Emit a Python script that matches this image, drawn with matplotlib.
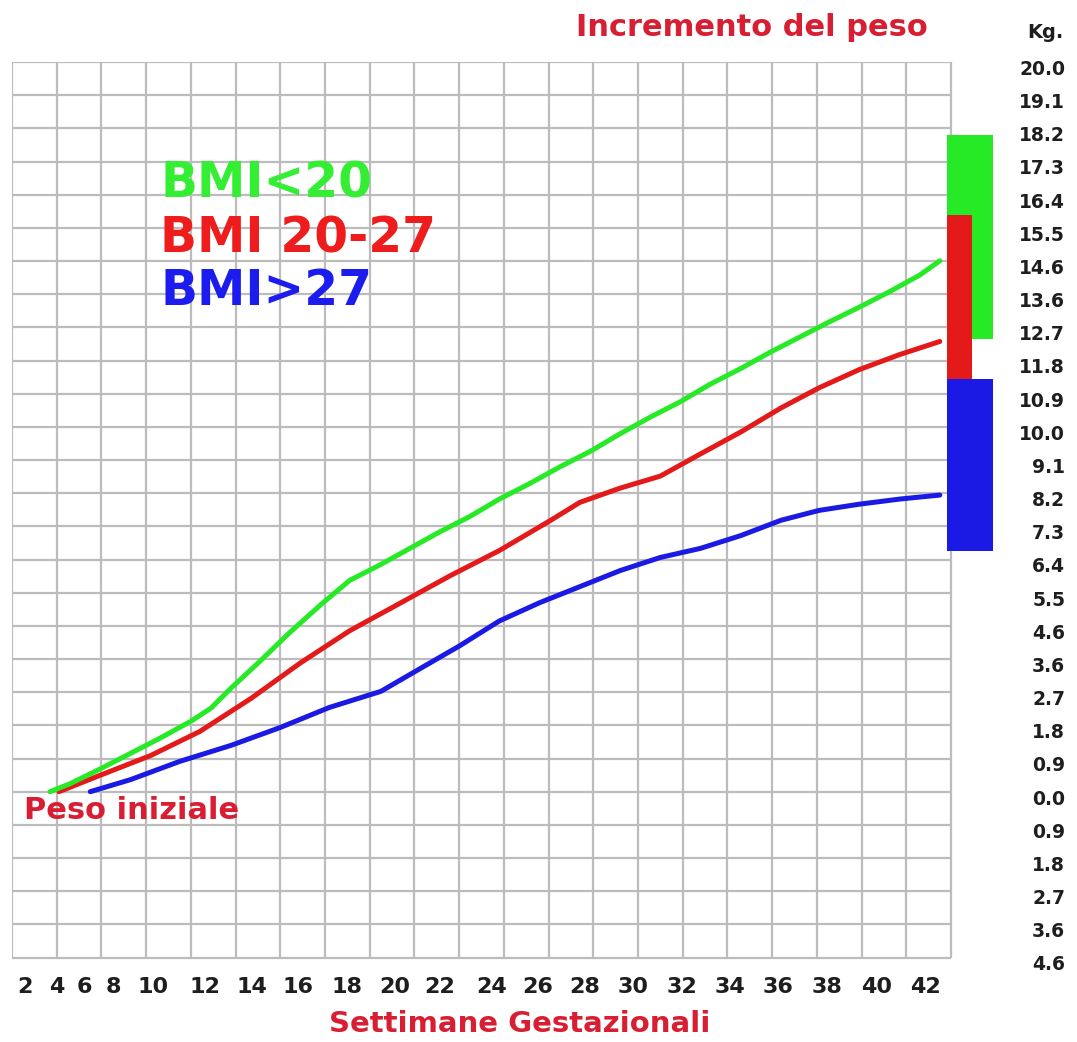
import matplotlib
matplotlib.use("Agg")
import matplotlib.pyplot as plt
import numpy as np

# ---------------- data ----------------
weeks_low = [1.7, 2.6, 3.9, 5.3, 6.6, 8.0, 8.9, 9.8, 11.1, 12.4, 13.8, 15.1, 16.5,
             17.8, 19.1, 20.5, 21.8, 23.2, 24.5, 25.9, 27.2, 28.5, 29.9, 31.2,
             32.6, 33.9, 35.2, 36.6, 37.9, 39.3, 40.6, 41.5]
kg_low = [0.0, 0.22, 0.61, 1.05, 1.46, 1.93, 2.29, 2.84, 3.58, 4.35, 5.12, 5.79,
          6.23, 6.67, 7.11, 7.55, 8.02, 8.46, 8.90, 9.34, 9.81, 10.25, 10.69,
          11.16, 11.60, 12.04, 12.45, 12.89, 13.28, 13.72, 14.16, 14.55]

weeks_mid = [2.1, 3.9, 6.2, 8.4, 10.7, 12.9, 15.1, 17.4, 19.6, 21.8, 24.1, 25.4,
             27.2, 29.0, 30.8, 32.6, 34.4, 36.1, 37.9, 39.7, 41.5]
kg_mid = [0.0, 0.44, 0.99, 1.65, 2.56, 3.53, 4.41, 5.18, 5.92, 6.61, 7.44, 7.93,
          8.32, 8.65, 9.26, 9.86, 10.52, 11.07, 11.57, 11.98, 12.34]

weeks_high = [3.5, 5.3, 7.5, 9.8, 12.0, 14.2, 16.5, 18.3, 20.0, 21.8, 23.6, 25.4,
              27.2, 29.0, 30.8, 32.6, 34.4, 36.1, 37.9, 39.7, 41.5]
kg_high = [0.0, 0.33, 0.83, 1.27, 1.76, 2.31, 2.75, 3.39, 3.99, 4.68, 5.18, 5.62,
           6.06, 6.42, 6.67, 7.02, 7.44, 7.71, 7.88, 8.02, 8.13]

# recommended ranges (kg) drawn as bars at the end of pregnancy
range_names = ["BMI<20", "BMI 20-27", "BMI>27"]
range_low = [12.4, 11.3, 6.6]
range_high = [18.0, 15.8, 11.3]

x_tick_labels = ["2", "4", "6", "8", "10", "12", "14", "16", "18", "20", "22",
                 "24", "26", "28", "30", "32", "34", "36", "38", "40", "42"]
y_tick_labels = ["20.0", "19.1", "18.2", "17.3", "16.4", "15.5", "14.6", "13.6",
                 "12.7", "11.8", "10.9", "10.0", "9.1", "8.2", "7.3", "6.4", "5.5",
                 "4.6", "3.6", "2.7", "1.8", "0.9", "0.0", "0.9", "1.8", "2.7",
                 "3.6", "4.6"]

# ---------------- style / layout ----------------
GREEN = "#26ea26"
RED = "#e41a1a"
BLUE = "#1a1ae4"
TXT_RED = "#d81e32"
GRID = "#bcbcbc"
FONT = "DejaVu Sans"

W, H = 1077, 1042
fig = plt.figure(figsize=(W / 100, H / 100), dpi=100)
fig.patch.set_facecolor("white")

step = 20 / 22                      # kg per horizontal grid row
y_min, y_max = -5 * step, 20.0
x_max = 44
px_per_week = 22.357
ax = fig.add_axes([12 / W, (H - 963) / H, x_max * px_per_week / W, (963 - 62) / H])
ax.set_xlim(0, x_max)
ax.set_ylim(y_min, y_max)
for s in ax.spines.values():
    s.set_visible(False)

# grid
grid_x = np.arange(0, 43, 2)
grid_y = np.arange(-5, 23) * step
ax.vlines(grid_x, y_min, y_max, color=GRID, lw=1.6, zorder=1)
ax.hlines(grid_y, 0, 42, color=GRID, lw=1.6, zorder=1)

# curves
ax.plot(weeks_high, kg_high, color=BLUE, lw=3.6, zorder=3, solid_capstyle="round")
ax.plot(weeks_mid, kg_mid, color=RED, lw=3.6, zorder=4, solid_capstyle="round")
ax.plot(weeks_low, kg_low, color=GREEN, lw=3.6, zorder=5, solid_capstyle="round")

# range bars
bar_left = 41.82
bar_widths = [2.06, 1.12, 2.06]
bar_colors = [GREEN, RED, BLUE]
for lo, hi, w, c, z in zip(range_low, range_high, bar_widths, bar_colors, [6, 7, 8]):
    ax.bar(bar_left, hi - lo, bottom=lo, width=w, align="edge", color=c,
           edgecolor="none", zorder=z, clip_on=False)

# ticks
label_pos = [0.58, 2.01, 3.22, 4.52, 6.31, 8.63, 10.73, 12.79, 14.98, 17.13,
             19.14, 21.47, 23.53, 25.63, 27.78, 29.97, 32.12, 34.26, 36.45,
             38.69, 40.84]
ax.set_xticks(label_pos)
ax.set_xticklabels(x_tick_labels, fontsize=16, fontweight="bold", family=FONT,
                   color="#1e1e1e")
ax.tick_params(axis="x", length=0, pad=10)

ax.yaxis.tick_right()
ax.set_yticks(grid_y[::-1] - 0.15)
ax.set_yticklabels(y_tick_labels, fontsize=13.5, fontweight="bold", family=FONT,
                   color="#1e1e1e", ha="right")
ax.tick_params(axis="y", length=0, pad=50)

# texts
legend_y = [16.67, 15.15, 13.72]
legend_colors = ["#33ee33", "#ee1c1c", "#1c1cee"]
for name, yy, c in zip(range_names, legend_y, legend_colors):
    ax.text(6.62, yy, name, color=c, fontsize=35, fontweight="bold", family=FONT,
            va="center", ha="left", zorder=9)

ax.text(0.55, -0.52, "Peso iniziale", color=TXT_RED, fontsize=22,
        fontweight="bold", family=FONT, va="center", ha="left", zorder=9)

fig.text(752 / W, 1 - 27 / H, "Incremento del peso", color=TXT_RED, fontsize=22,
         fontweight="bold", family=FONT, va="center", ha="center")
fig.text(1045 / W, 1 - 33 / H, "Kg.", color="#1e1e1e", fontsize=14,
         fontweight="bold", family=FONT, va="center", ha="center")
fig.text(520 / W, 1 - 1024 / H, "Settimane Gestazionali", color=TXT_RED,
         fontsize=21, fontweight="bold", family=FONT, va="center", ha="center")

fig.savefig("out.png", dpi=100, facecolor="white")
